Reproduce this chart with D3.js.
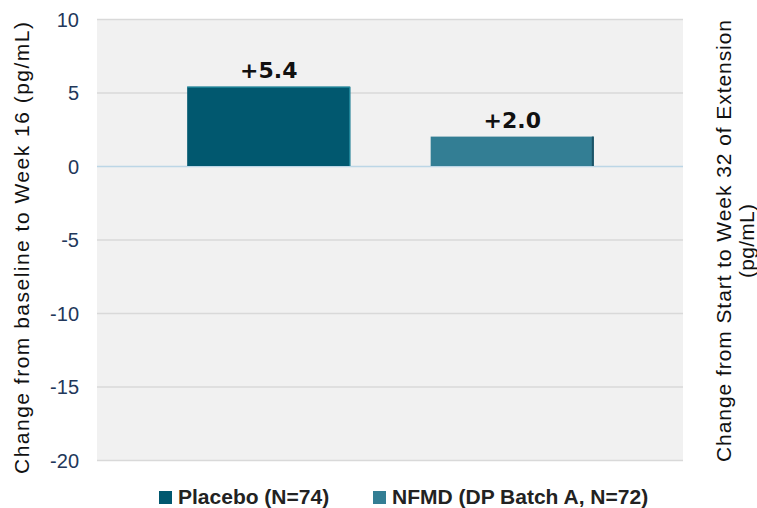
<!DOCTYPE html>
<html>
<head>
<meta charset="utf-8">
<script src="https://cdn.jsdelivr.net/npm/d3@7"></script>
<style>
  body { margin: 0; background: #ffffff; }
  svg { display: block; }
</style>
</head>
<body>
<div id="chart"></div>
<script>
  // data

  const groups = ["Placebo (N=74)", "NFMD (DP Batch A, N=72)"];
  const values = [5.4, 2.0];
  const valueLabels = ["+5.4", "+2.0"];
  const yTicks = [10, 5, 0, -5, -10, -15, -20];
  const colors = ["#01586f", "#337e94"];

  // config

  const width = 757;
  const height = 508;
  const plot = { left: 97, right: 683, top: 19, bottom: 460 };
  const sans = "Liberation Sans, Arial, sans-serif";

  const svg = d3.select("#chart")
    .append("svg")
    .attr("width", width)
    .attr("height", height);

  // scales

  const y = d3.scaleLinear()
    .domain([-20, 10])
    .range([plot.bottom, plot.top]);

  const x = d3.scaleBand()
    .domain(groups)
    .range([147, 634])
    .paddingInner(0.33)
    .paddingOuter(0.165);

  // plot background

  svg.append("rect")
    .attr("x", plot.left)
    .attr("y", plot.top)
    .attr("width", plot.right - plot.left)
    .attr("height", plot.bottom - plot.top)
    .attr("fill", "#f1f1f1");

  // gridlines

  svg.selectAll("line.grid")
    .data(yTicks)
    .enter()
    .append("line")
    .attr("class", "grid")
    .attr("x1", plot.left)
    .attr("x2", plot.right)
    .attr("y1", d => y(d) + 0.5)
    .attr("y2", d => y(d) + 0.5)
    .attr("stroke", d => d === 0 ? "#bcd6e6" : "#d9d9d9")
    .attr("stroke-width", 1.5);

  // y axis labels

  const yAxis = d3.axisLeft(y)
    .tickValues(yTicks)
    .tickSize(0)
    .tickPadding(0)
    .tickFormat(d => String(d));

  const yg = svg.append("g")
    .attr("transform", `translate(${79},0)`)
    .call(yAxis);
  yg.select(".domain").remove();
  yg.selectAll("text")
    .attr("font-family", sans)
    .attr("font-size", 20)
    .attr("fill", "#22375a")
    .attr("dy", "0.35em");

  // bars

  svg.selectAll("rect.bar")
    .data(groups)
    .enter()
    .append("rect")
    .attr("class", "bar")
    .attr("x", d => x(d))
    .attr("width", x.bandwidth())
    .attr("y", (d, i) => y(values[i]))
    .attr("height", (d, i) => y(0) - y(values[i]))
    .attr("fill", (d, i) => colors[i]);

  // light edge on the first bar (top and right)
  const b1 = x(groups[0]), w = x.bandwidth();
  svg.append("path")
    .attr("d", `M${b1},${y(values[0]) + 0.5}H${b1 + w - 0.5}V${y(0)}`)
    .attr("fill", "none")
    .attr("stroke", "#2a97a9")
    .attr("stroke-width", 1);

  // dark edge on the right of the second bar
  svg.append("rect")
    .attr("x", x(groups[1]) + w - 2)
    .attr("y", y(values[1]))
    .attr("width", 2)
    .attr("height", y(0) - y(values[1]))
    .attr("fill", "#1c5366");

  // value labels

  svg.selectAll("text.val")
    .data(groups)
    .enter()
    .append("text")
    .attr("class", "val")
    .attr("x", d => x(d) + x.bandwidth() / 2)
    .attr("y", (d, i) => y(values[i]) - 9)
    .attr("text-anchor", "middle")
    .attr("font-family", "DejaVu Sans, sans-serif")
    .attr("font-weight", "bold")
    .attr("font-size", 22)
    .attr("fill", "#111")
    .text((d, i) => valueLabels[i]);

  // axis titles

  svg.append("text")
    .attr("transform", `translate(29,${248}) rotate(-90)`)
    .attr("text-anchor", "middle")
    .attr("font-family", sans)
    .attr("font-size", 21)
    .attr("fill", "#111")
    .attr("textLength", 452)
    .attr("lengthAdjust", "spacing")
    .text("Change from baseline to Week 16 (pg/mL)");

  const rt = svg.append("text")
    .attr("transform", `translate(731,${241}) rotate(-90)`)
    .attr("text-anchor", "middle")
    .attr("font-family", sans)
    .attr("font-size", 21)
    .attr("fill", "#111");
  rt.append("tspan").attr("x", 0).attr("dy", 0)
    .attr("textLength", 442).attr("lengthAdjust", "spacing")
    .text("Change from Start to Week 32 of Extension");
  rt.append("tspan").attr("x", 0).attr("dy", 23)
    .attr("textLength", 74).attr("lengthAdjust", "spacing")
    .text("(pg/mL)");

  // legend

  const legendX = [159, 373];
  const legend = svg.selectAll("g.leg")
    .data(groups)
    .enter()
    .append("g")
    .attr("class", "leg")
    .attr("transform", (d, i) => `translate(${legendX[i]},${491})`);

  legend.append("rect")
    .attr("width", 13)
    .attr("height", 13)
    .attr("fill", (d, i) => colors[i]);

  legend.append("text")
    .attr("x", 19)
    .attr("y", 13)
    .attr("font-family", sans)
    .attr("font-weight", "bold")
    .attr("font-size", 21)
    .attr("fill", "#222")
    .text(d => d);
</script>
</body>
</html>
